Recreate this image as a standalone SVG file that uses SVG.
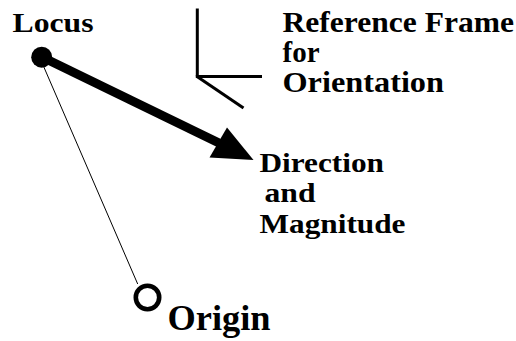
<svg xmlns="http://www.w3.org/2000/svg" width="516" height="341" viewBox="0 0 516 341">
<style>
text{font-family:'Liberation Serif','Times New Roman',serif !important;font-weight:700;fill:#000}
.axis{stroke:#000;stroke-width:3;fill:none;stroke-linecap:butt}
</style>
<rect width="516" height="341" fill="#fff"/>
<g id="connectors">
<line x1="41.7" y1="62" x2="137.7" y2="284" stroke="#000" stroke-width="1"/>
<line x1="42" y1="57" x2="219" y2="143" stroke="#000" stroke-width="9"/>
<polygon points="227,127.5 209.5,157.5 253.5,160" fill="#000"/>
</g>
<g id="locus">
<circle cx="41.7" cy="57.2" r="10.5" fill="#000"/>
<text style="font-family:'Liberation Serif',serif !important" x="12.5" y="32" font-size="28" textLength="81" lengthAdjust="spacingAndGlyphs">Locus</text>
</g>
<g id="origin">
<circle cx="147.5" cy="297.5" r="11.7" fill="none" stroke="#000" stroke-width="4.6"/>
<text style="font-family:'Liberation Serif',serif !important" x="167.5" y="330" font-size="36" textLength="103" lengthAdjust="spacingAndGlyphs">Origin</text>
</g>
<g id="frame">
<line class="axis" x1="197.3" y1="8.5" x2="197.3" y2="76.5"/>
<line class="axis" x1="195.8" y1="76.5" x2="262" y2="76.5"/>
<line class="axis" x1="197" y1="76.5" x2="243.5" y2="108"/>
<text style="font-family:'Liberation Serif',serif !important" x="282.5" y="32.3" font-size="29" textLength="231.5" lengthAdjust="spacingAndGlyphs">Reference Frame</text>
<text style="font-family:'Liberation Serif',serif !important" x="282.5" y="62.3" font-size="29" textLength="37" lengthAdjust="spacingAndGlyphs">for</text>
<text style="font-family:'Liberation Serif',serif !important" x="282.5" y="92.3" font-size="29" textLength="161.5" lengthAdjust="spacingAndGlyphs">Orientation</text>
</g>
<g id="direction">
<text style="font-family:'Liberation Serif',serif !important" x="259.5" y="171.5" font-size="28" textLength="124.5" lengthAdjust="spacingAndGlyphs">Direction</text>
<text style="font-family:'Liberation Serif',serif !important" x="264.5" y="201.7" font-size="28" textLength="51" lengthAdjust="spacingAndGlyphs">and</text>
<text style="font-family:'Liberation Serif',serif !important" x="259.5" y="232.5" font-size="28" textLength="146" lengthAdjust="spacingAndGlyphs">Magnitude</text>
</g>
</svg>
